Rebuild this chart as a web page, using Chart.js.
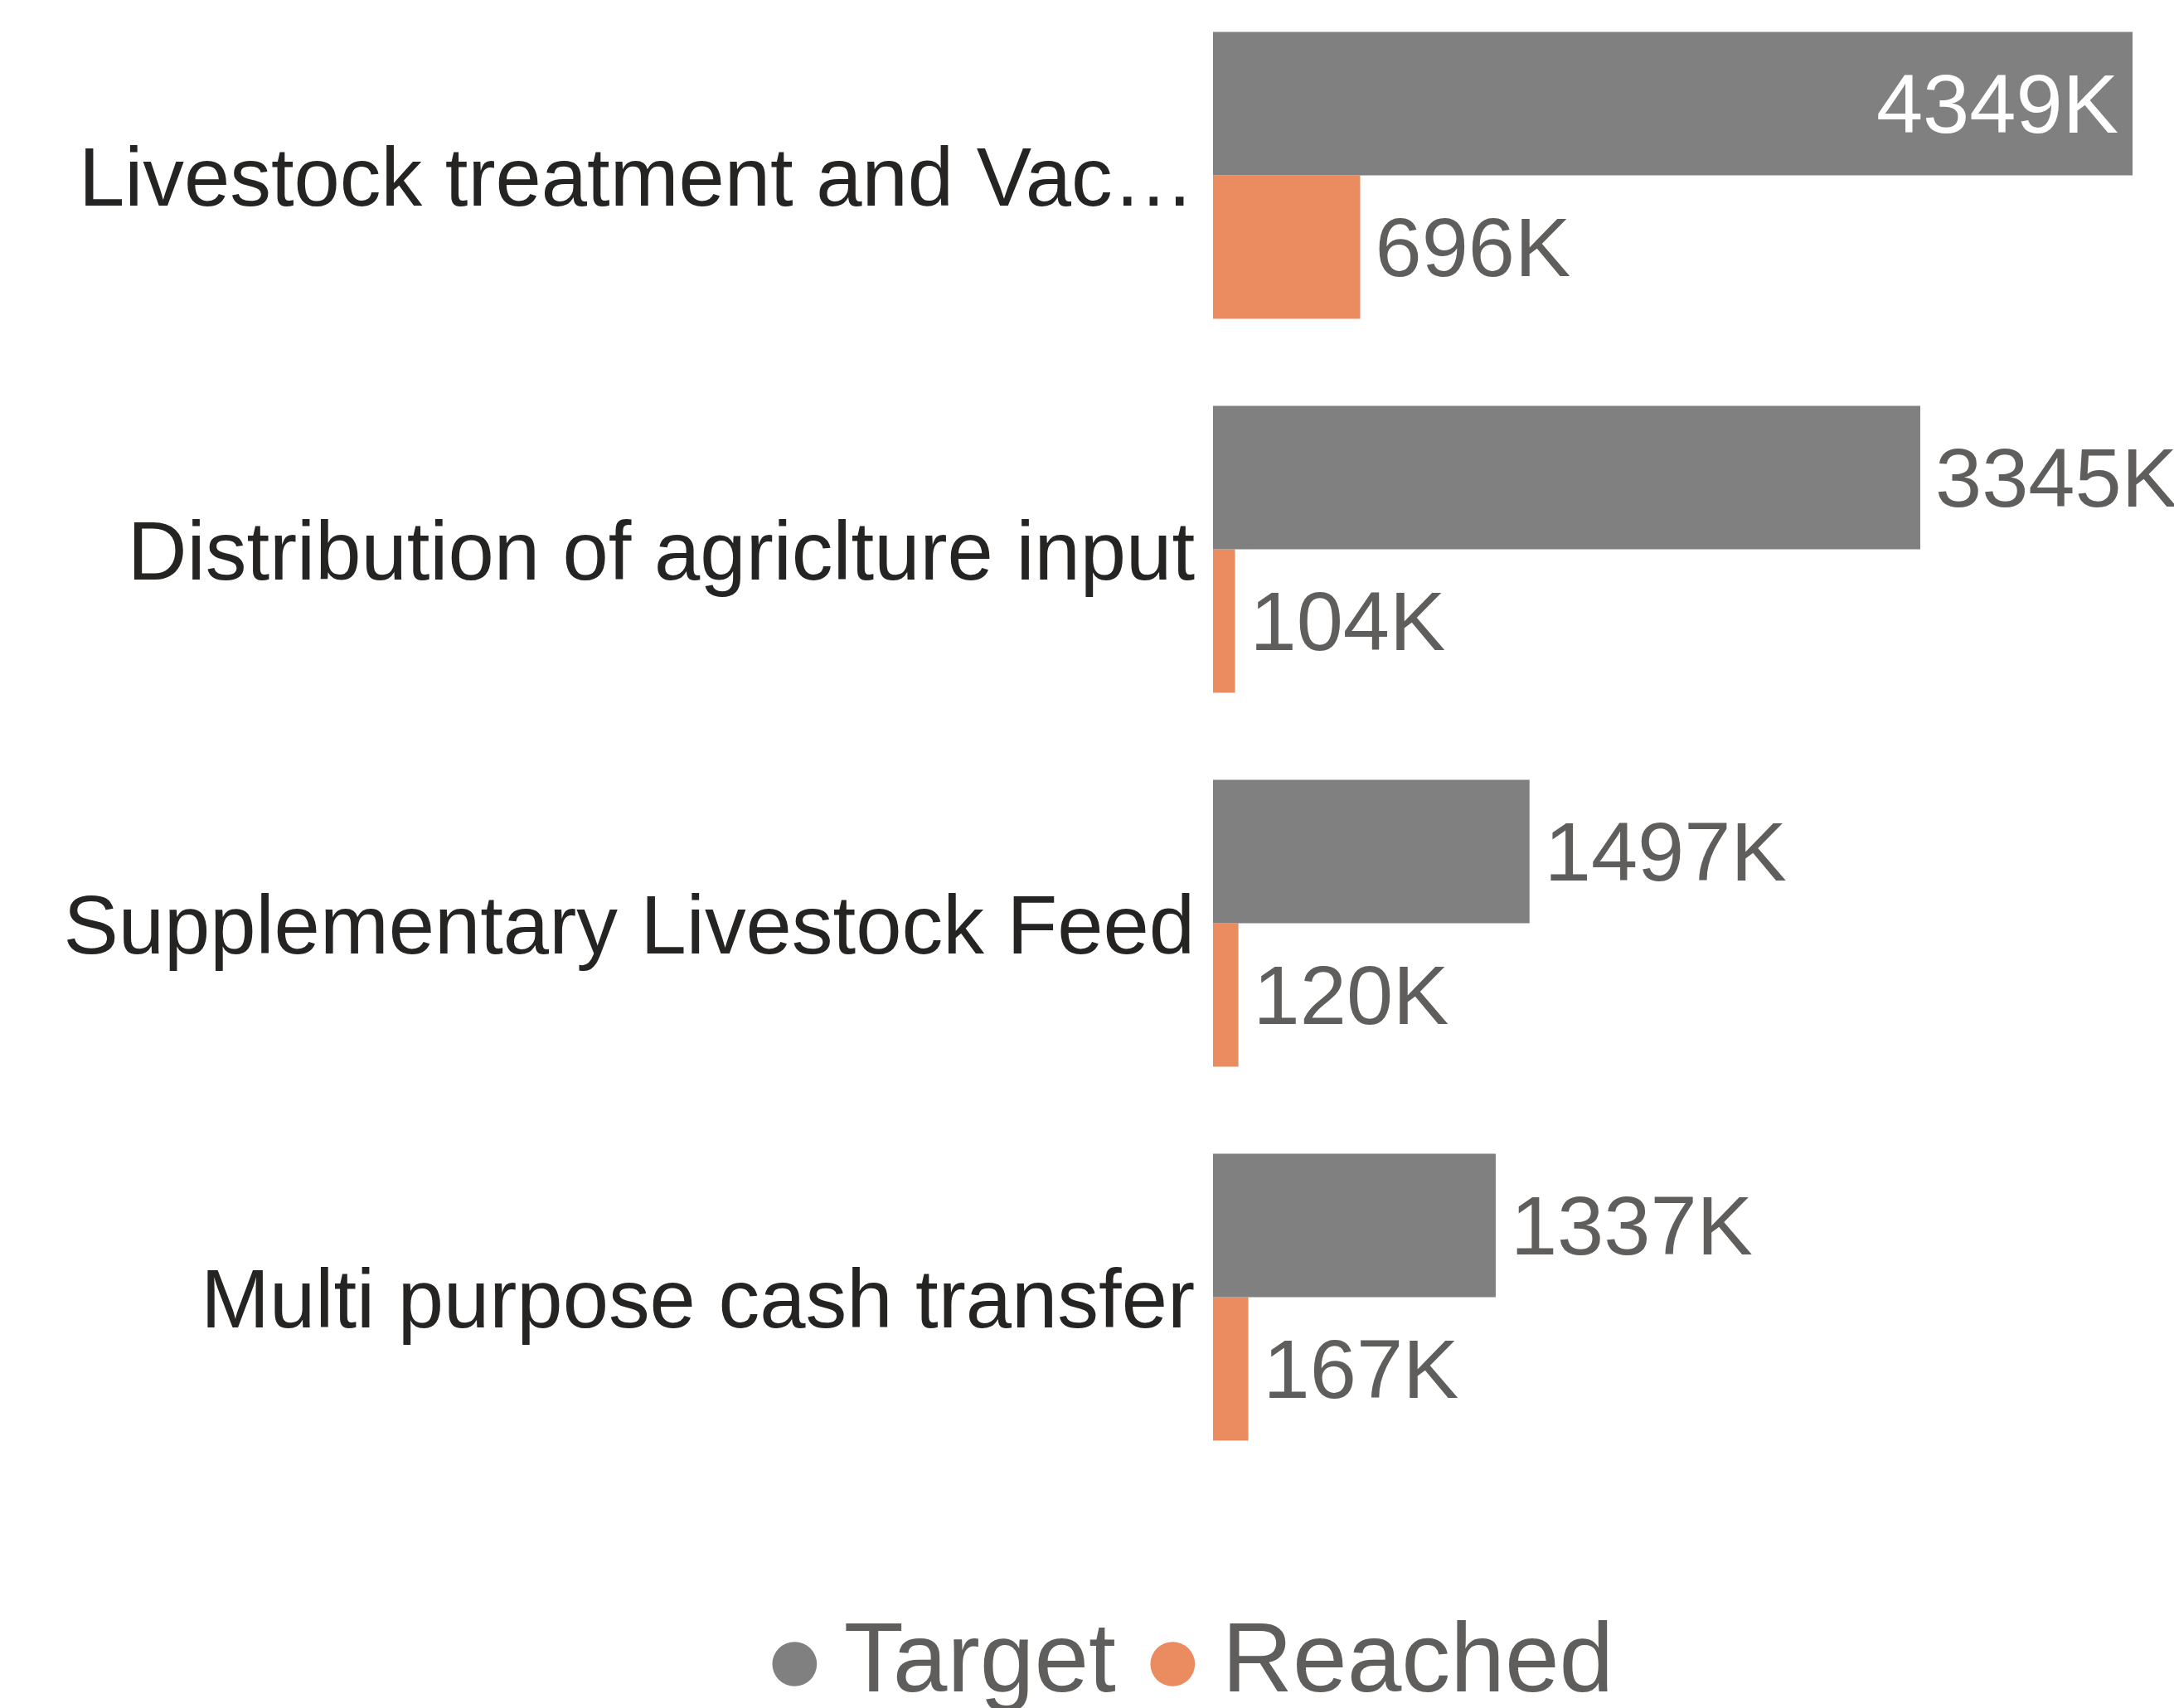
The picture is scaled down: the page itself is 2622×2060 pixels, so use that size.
<!DOCTYPE html>
<html>
<head>
<meta charset="utf-8">
<script src="https://cdn.jsdelivr.net/npm/chart.js@4"></script>
<style>
  body { margin: 0; background: #fff; overflow: hidden; }
  #wrap { position: absolute; left: 0; top: -14px; }
</style>
</head>
<body>
<div id="wrap"><canvas id="Chart" width="2622" height="2090"></canvas></div>
<script>
// activities and people counts (in thousands)
const categories = [
  'Livestock treatment and Vac…',
  'Distribution of agriclture input',
  'Supplementary Livestock Feed',
  'Multi purpose cash transfer'
];
const targetValues = [4349, 3345, 1497, 1337];
const reachedValues = [696, 104, 120, 167];

const FONT = '"Liberation Sans", Arial, sans-serif';

// draws the "1234K" labels at the end of each bar
const barLabels = {
  id: 'barLabels',
  afterLayout(chart) {
    // legend is centred a bit right of the canvas middle
    chart.legend.left = 332;
  },
  afterDatasetsDraw(chart) {
    const ctx = chart.ctx;
    ctx.save();
    ctx.font = '101px ' + FONT;
    ctx.textBaseline = 'middle';
    chart.data.datasets.forEach((ds, i) => {
      const meta = chart.getDatasetMeta(i);
      meta.data.forEach((bar, j) => {
        const text = ds.data[j] + 'K';
        const w = ctx.measureText(text).width;
        const inside = bar.x + 17 + w / 2 > chart.width;
        if (inside) {
          ctx.fillStyle = '#ffffff';
          ctx.textAlign = 'right';
          ctx.fillText(text, bar.x - 17, bar.y + 7);
        } else {
          ctx.fillStyle = '#605E5C';
          ctx.textAlign = 'left';
          ctx.fillText(text, bar.x + 18, bar.y + 7);
        }
      });
    });
    ctx.restore();
  }
};

const ctx = document.getElementById('Chart').getContext('2d');
new Chart(ctx, {
  type: 'bar',
  data: {
    labels: categories,
    datasets: [
      {
        label: 'Target',
        data: targetValues,
        backgroundColor: '#808080',
        borderWidth: 0,
        categoryPercentage: 0.767,
        barPercentage: 1
      },
      {
        label: 'Reached',
        data: reachedValues,
        backgroundColor: '#EA8B60',
        borderWidth: 0,
        categoryPercentage: 0.767,
        barPercentage: 1
      }
    ]
  },
  options: {
    indexAxis: 'y',
    responsive: false,
    animation: false,
    layout: { padding: { left: 0, right: 50, top: 0, bottom: 0 } },
    scales: {
      x: {
        min: 0,
        max: Math.max(...targetValues),
        grid: { display: false, drawTicks: false },
        border: { display: false },
        ticks: { display: false },
        afterFit: (s) => { s.height = 90; }
      },
      y: {
        grid: { display: false, drawTicks: false },
        border: { display: false },
        ticks: {
          color: '#252423',
          padding: 22,
          labelOffset: 9,
          font: { family: FONT, size: 99.4 }
        },
        afterFit: (s) => {
          s.width = 1463;
          s.paddingTop = 0;
          s.paddingBottom = 0;
        }
      }
    },
    plugins: {
      tooltip: { enabled: false },
      legend: {
        position: 'bottom',
        labels: {
          usePointStyle: true,
          pointStyle: 'circle',
          boxWidth: 1,
          boxHeight: 38,
          padding: 68,
          color: '#605E5C',
          font: { family: FONT, size: 118 }
        }
      }
    }
  },
  plugins: [barLabels]
});
</script>
</body>
</html>
